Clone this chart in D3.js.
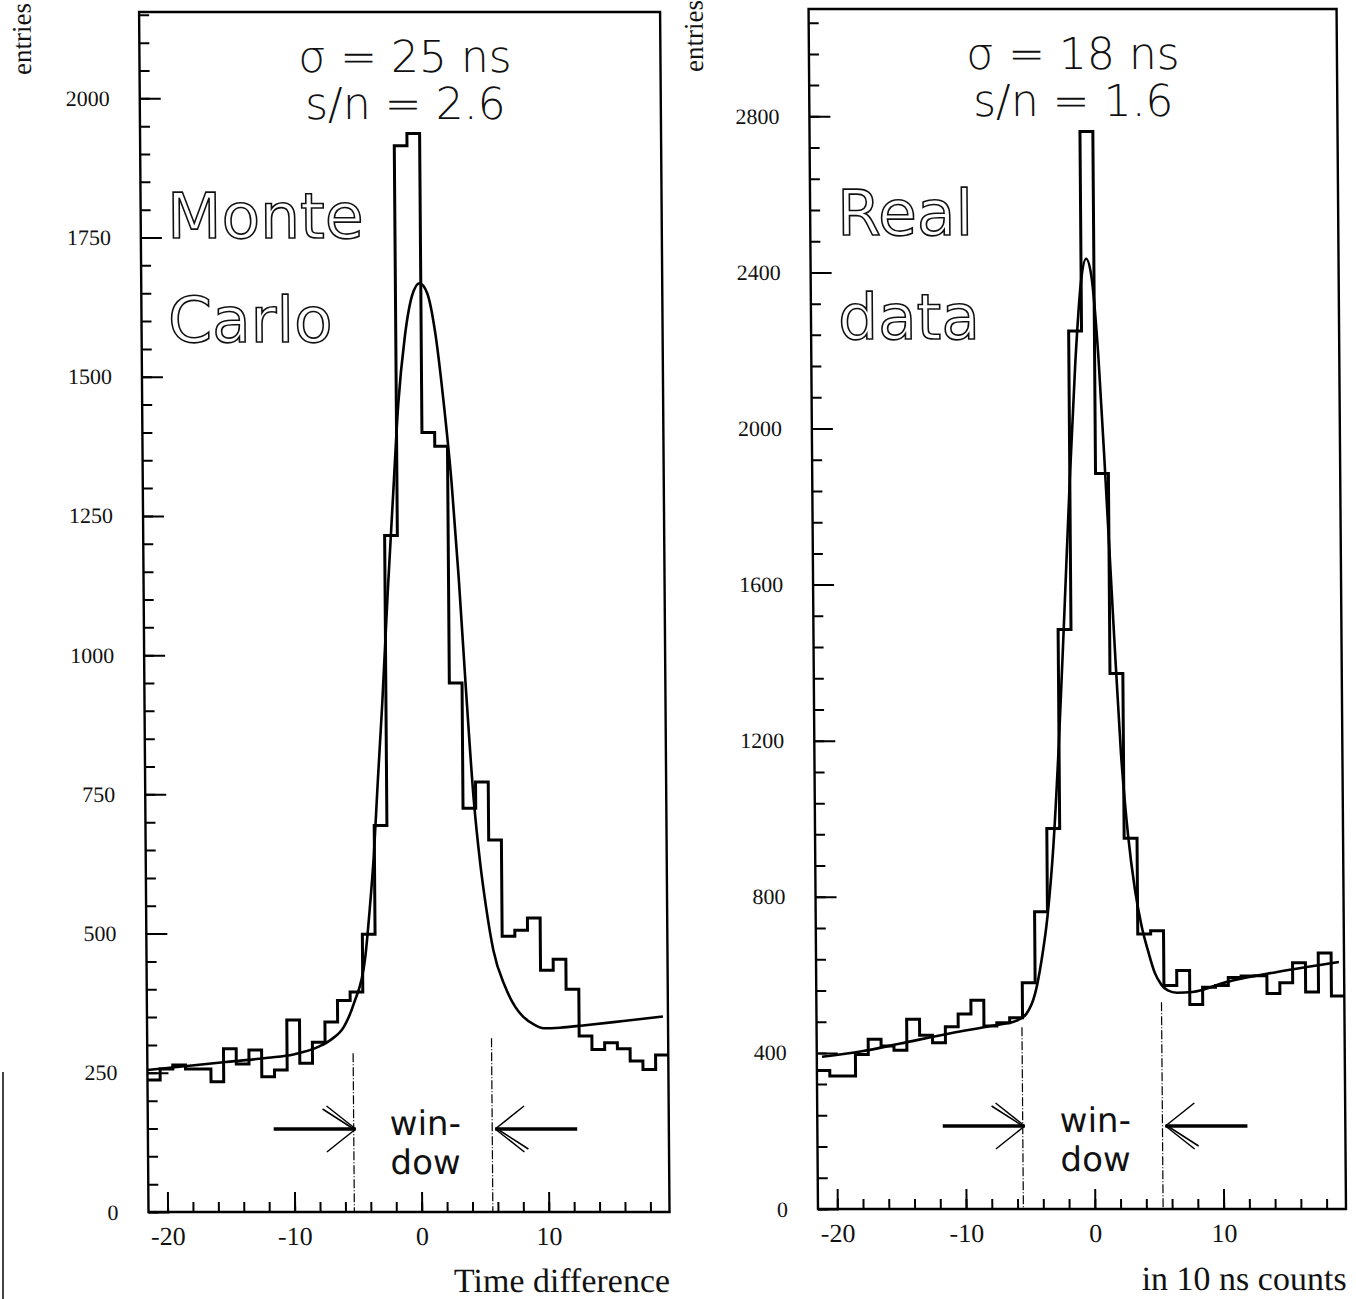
<!DOCTYPE html>
<html>
<head>
<meta charset="utf-8">
<script src="https://cdn.jsdelivr.net/npm/d3@7"></script>
<style>
  html, body { margin: 0; padding: 0; background: #ffffff; }
  svg { display: block; }
  .tick text { font-family: "Liberation Serif", "Times New Roman", serif; font-size: 22px; fill: #111; }
  .tick line { stroke: #000; stroke-width: 2; }
  .axis-title { font-family: "Liberation Serif", "Times New Roman", serif; fill: #111; }
  .note { font-family: "DejaVu Sans", sans-serif; font-weight: 200; fill: #111; }
  .big-label { font-family: "DejaVu Sans", sans-serif; fill: #fff; stroke: #111; stroke-width: 1.6; }
  .window-label { font-family: "DejaVu Sans", sans-serif; fill: #111; }
</style>
</head>
<body>
<div id="container"></div>
<script>
"use strict"

// bin centres, in 10 ns counts
const binCenters = [-21, -20, -19, -18, -17, -16, -15, -14, -13, -12, -11, -10, -9, -8, -7, -6, -5, -4, -3, -2, -1,
                    0, 1, 2, 3, 4, 5, 6, 7, 8, 9, 10, 11, 12, 13, 14, 15, 16, 17, 18, 19];

// left panel: Monte Carlo
const monteCarloCounts = [237, 257, 264, 257, 257, 234, 293, 266, 291, 243, 255, 345, 267, 305, 341, 380, 395, 499, 694, 1215, 1915,
                          1937, 1400, 1375, 950, 725, 772, 668, 495, 506, 528, 434, 454, 400, 316, 292, 304, 293, 271, 256, 282];
const monteCarloFit = [[-21.5, 255], [-18, 263], [-15, 270], [-12, 277], [-10, 283], [-8, 297], [-7, 310], [-6, 333],
                       [-5.2, 375], [-4.3, 455], [-3.9, 545], [-3.55, 640], [-3.2, 770], [-2.8, 910], [-2.3, 1110],
                       [-1.8, 1290], [-1.35, 1450], [-0.8, 1570], [-0.2, 1645], [0.4, 1668], [1.0, 1650], [1.6, 1580],
                       [2.2, 1460], [2.8, 1310], [3.3, 1140], [3.8, 940], [4.35, 740], [4.8, 630], [5.25, 548], [5.8, 470],
                       [6.7, 405], [7.5, 368], [8.1, 351], [9.0, 336], [9.7, 330], [11, 331], [12.8, 335], [16, 343], [19.1, 351]];
const monteCarloWindow = [-5.3, 5.6];
const monteCarloWindowTop = [285, 312];

// right panel: real data
const realDataCounts = [355, 341, 341, 396, 435, 418, 407, 486, 445, 426, 467, 500, 535, 469, 477, 490, 580, 762, 975, 1485, 2250,
                        2761, 1885, 1372, 950, 705, 713, 573, 611, 524, 568, 573, 593, 597, 598, 552, 580, 631, 556, 656, 546];
const realDataFit = [[-21.1, 390], [-18, 404], [-15, 424], [-11, 451], [-8, 469], [-6, 482], [-5.2, 500], [-4.5, 553],
                     [-4, 635], [-3.5, 750], [-3, 930], [-2.5, 1200], [-2, 1530], [-1.5, 1870], [-1, 2170], [-0.5, 2380],
                     [-0.1, 2435], [0.3, 2390], [0.8, 2180], [1.3, 1850], [1.8, 1500], [2.3, 1170], [2.8, 960], [3.3, 820],
                     [3.8, 725], [4.3, 660], [4.8, 605], [5.3, 575], [5.8, 560], [6.5, 554], [7.7, 556], [10.4, 582],
                     [14.4, 608], [19.1, 633]];
const realDataWindow = [-5.55, 5.3];
const realDataWindowTop = [466, 530];

// axes
const xDomain = [-21.5, 19.5];
const xMajorTicks = [-20, -10, 0, 10];
const xMinorTicks = [-20, -18, -16, -14, -12, -10, -8, -6, -4, -2, 0, 2, 4, 6, 8, 10, 12, 14, 16, 18];
const leftYTicks = [0, 250, 500, 750, 1000, 1250, 1500, 1750, 2000];
const leftYMinorStep = 50;
const rightYTicks = [0, 400, 800, 1200, 1600, 2000, 2400, 2800];
const rightYMinorStep = 80;

// texts
const leftNotes = ["σ = 25 ns", "s/n = 2.6"];
const leftTitle = ["Monte", "Carlo"];
const rightNotes = ["σ = 18 ns", "s/n = 1.6"];
const rightTitle = ["Real", "data"];
const windowWords = ["win-", "dow"];
const yTitle = "entries";
const leftXTitle = "Time difference";
const rightXTitle = "in 10 ns counts";

const width = 1356;
const height = 1299;
const shearDeg = 0.45;     // the scan leans a little
const shearOrigin = 1211;

let svg;
let chart;


function Main()
{
    CreateSVG();

    const panels = [
        {
            counts: monteCarloCounts, fit: monteCarloFit, window: monteCarloWindow, windowTop: monteCarloWindowTop,
            yTicks: leftYTicks, yMinorStep: leftYMinorStep, yMax: 2155,
            left: 148.5, right: 669.5, top: 12, bottom: 1212,
            notes: leftNotes, notesX: 414, title: leftTitle, titleX: 175,
            windowX: 426, yTitleX: 40, xTitle: leftXTitle, xTitleY: 1292
        },
        {
            counts: realDataCounts, fit: realDataFit, window: realDataWindow, windowTop: realDataWindowTop,
            yTicks: rightYTicks, yMinorStep: rightYMinorStep, yMax: 3075,
            left: 818, right: 1346, top: 9, bottom: 1209,
            notes: rightNotes, notesX: 1082, title: rightTitle, titleX: 845,
            windowX: 1096, yTitleX: 712, xTitle: rightXTitle, xTitleY: 1290
        }
    ];

    panels.forEach(p => DrawPanel(p));

    // scanner edge at far left
    svg.append("line")
        .attr("x1", 3).attr("x2", 3)
        .attr("y1", 1072).attr("y2", height)
        .attr("stroke", "#444")
        .attr("stroke-width", 2);

    document.getElementById("container").append(svg.node());
};


function CreateSVG()
{
    svg = d3.create("svg")
        .attr("width", width)
        .attr("height", height);

    svg.append("rect")
        .attr("width", width)
        .attr("height", height)
        .attr("fill", "#fff");

    chart = svg.append("g")
        .attr("transform", `translate(0,${shearOrigin}) skewX(${shearDeg}) translate(0,${-shearOrigin})`);
};


function StackedText(g, cls, lines, x, y, lineGap, size, anchor)
{
    const t = g.append("text")
        .attr("class", cls)
        .attr("x", x)
        .attr("y", y)
        .attr("text-anchor", anchor)
        .attr("font-size", size);

    t.selectAll("tspan")
        .data(lines)
        .enter()
        .append("tspan")
        .attr("x", x)
        .attr("dy", (_, i) => i === 0 ? 0 : lineGap)
        .text(d => d);
};


function DrawPanel(p)
{
    const g = chart.append("g");

    const x = d3.scaleLinear().domain(xDomain).range([p.left, p.right]);
    const y = d3.scaleLinear().domain([0, p.yMax]).range([p.bottom, p.top]);

    // frame
    g.append("rect")
        .attr("x", p.left)
        .attr("y", p.top)
        .attr("width", p.right - p.left)
        .attr("height", p.bottom - p.top)
        .attr("fill", "none")
        .attr("stroke", "#000")
        .attr("stroke-width", 2.4);

    // y axis, ticks pointing inwards
    const yMinor = d3.range(0, p.yMax, p.yMinorStep);

    g.append("g")
        .attr("transform", `translate(${p.left},0)`)
        .call(d3.axisLeft(y).tickValues(yMinor).tickSize(-10).tickFormat(""))
        .call(a => a.select(".domain").remove());

    g.append("g")
        .attr("transform", `translate(${p.left},0)`)
        .call(d3.axisLeft(y).tickValues(p.yTicks).tickSize(-21).tickPadding(30).tickFormat(d => String(d)))
        .call(a => a.select(".domain").remove());

    // x axis
    g.append("g")
        .attr("transform", `translate(0,${p.bottom})`)
        .call(d3.axisBottom(x).tickValues(xMinorTicks).tickSize(-10).tickFormat(""))
        .call(a => a.select(".domain").remove());

    g.append("g")
        .attr("transform", `translate(0,${p.bottom})`)
        .call(d3.axisBottom(x).tickValues(xMajorTicks).tickSize(-20).tickPadding(15).tickFormat(d => String(d)))
        .call(a => a.select(".domain").remove())
        .call(a => a.selectAll("text").style("font-size", "26px"));

    // histogram outline
    const steps = [];
    binCenters.forEach((c, i) => {
        steps.push([c - 0.5, p.counts[i]]);
        steps.push([c + 0.5, p.counts[i]]);
    });

    g.append("path")
        .datum(steps)
        .attr("fill", "none")
        .attr("stroke", "#000")
        .attr("stroke-width", 3)
        .attr("d", d3.line().x(d => x(d[0])).y(d => y(d[1])));

    // fitted curve
    g.append("path")
        .datum(p.fit)
        .attr("fill", "none")
        .attr("stroke", "#000")
        .attr("stroke-width", 2.6)
        .attr("d", d3.line().curve(d3.curveMonotoneX).x(d => x(d[0])).y(d => y(d[1])));

    // window limits
    g.selectAll(".window-line")
        .data(p.window)
        .enter()
        .append("line")
        .attr("class", "window-line")
        .attr("x1", d => x(d))
        .attr("x2", d => x(d))
        .attr("y1", (_, i) => y(p.windowTop[i]))
        .attr("y2", p.bottom)
        .attr("stroke", "#000")
        .attr("stroke-width", 1.2)
        .attr("stroke-dasharray", "9,2,1,2");

    const arrowY = p.bottom - 83;
    DrawArrow(g, x(p.window[0]) + 2, arrowY, 1);
    DrawArrow(g, x(p.window[1]) + 3, arrowY, -1);

    // "win- / dow"
    StackedText(g, "window-label", windowWords, p.windowX, arrowY + 6, 39, 34, "middle");

    // sigma and s/n
    StackedText(g, "note", p.notes, p.notesX, p.top + 60, 47, 44, "middle");

    // outlined panel title
    StackedText(g, "big-label", p.title, p.titleX, p.top + 226, 104, 63, "start");

    // axis titles
    g.append("text")
        .attr("class", "axis-title")
        .attr("transform", `translate(${p.yTitleX},${p.top - 9}) rotate(-90)`)
        .attr("text-anchor", "end")
        .attr("font-size", 27)
        .text(yTitle);

    g.append("text")
        .attr("class", "axis-title")
        .attr("x", p.right)
        .attr("y", p.xTitleY)
        .attr("text-anchor", "end")
        .attr("font-size", 34)
        .text(p.xTitle);
};


function DrawArrow(g, tipX, tipY, dir)
{
    const a = g.append("g")
        .attr("fill", "none")
        .attr("stroke", "#000");

    a.append("line")
        .attr("x1", tipX - dir * 82).attr("y1", tipY)
        .attr("x2", tipX).attr("y2", tipY)
        .attr("stroke-width", 3.5);

    a.append("line")
        .attr("x1", tipX).attr("y1", tipY)
        .attr("x2", tipX - dir * 29).attr("y2", tipY - 23)
        .attr("stroke-width", 1.5);

    a.append("line")
        .attr("x1", tipX).attr("y1", tipY)
        .attr("x2", tipX - dir * 29).attr("y2", tipY + 23)
        .attr("stroke-width", 1.5);

    // the doubled barb: top one for right arrows, bottom one for left arrows
    a.append("line")
        .attr("x1", tipX - dir * 2).attr("y1", tipY)
        .attr("x2", tipX - dir * 33).attr("y2", tipY - dir * 20)
        .attr("stroke-width", 1.5);
};


Main();
</script>
</body>
</html>
